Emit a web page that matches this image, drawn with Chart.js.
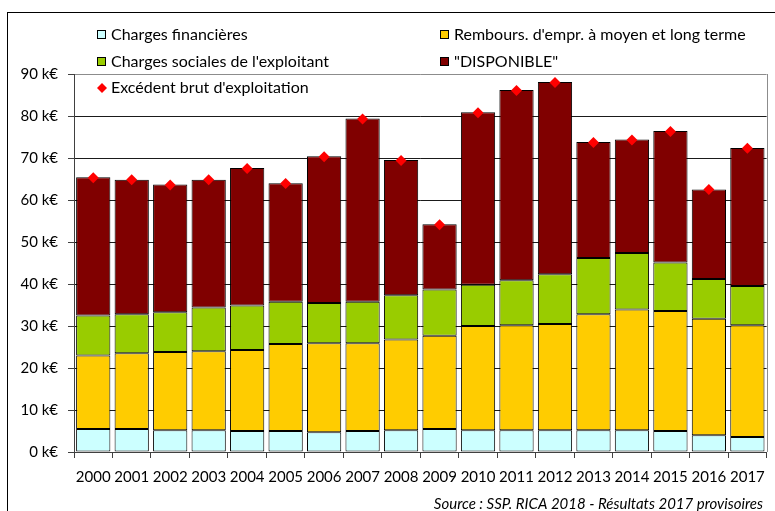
<!DOCTYPE html>
<html>
<head>
<meta charset="utf-8">
<script src="https://cdn.jsdelivr.net/npm/chart.js@4.4.1/dist/chart.umd.min.js"></script>
<style>
    html, body { margin: 0; padding: 0; background: #fff; overflow: hidden; }
    #wrap { position: relative; width: 775px; height: 511px; overflow: hidden; }
    #frame { position: absolute; left: 7px; top: 12px; width: 900px; height: 600px;
             border-left: 1px solid #000; border-top: 1px solid #000; }
    #chart { position: absolute; left: 0; top: 0; }
</style>
</head>
<body>
<div id="wrap">
    <div id="frame"></div>
    <canvas id="chart" width="775" height="511"></canvas>
</div>
<script>
// Values in k€ per exploitation
const years = ['2000', '2001', '2002', '2003', '2004', '2005', '2006', '2007', '2008',
               '2009', '2010', '2011', '2012', '2013', '2014', '2015', '2016', '2017'];
const chargesFinancieres = [5.5, 5.5, 5.2, 5.2, 5.0, 5.0, 4.7, 5.0, 5.2, 5.5, 5.2, 5.2, 5.2, 5.2, 5.2, 5.0, 4.0, 3.6];
const remboursements     = [17.5, 18.0, 18.6, 18.8, 19.3, 20.7, 21.2, 20.9, 21.6, 22.2, 24.8, 25.0, 25.3, 27.6, 28.7, 28.6, 27.7, 26.6];
const chargesSociales    = [9.5, 9.3, 9.5, 10.4, 10.6, 10.1, 9.6, 9.9, 10.5, 11.0, 9.8, 10.7, 11.8, 13.4, 13.5, 11.5, 9.5, 9.3];
const disponible         = [32.9, 32.0, 30.4, 30.4, 32.7, 28.2, 34.9, 43.6, 32.2, 15.5, 41.1, 45.3, 45.8, 27.6, 27.0, 31.3, 21.3, 32.9];
const ebe                = [65.3, 64.8, 63.6, 64.8, 67.5, 63.9, 70.3, 79.3, 69.4, 54.1, 80.8, 86.1, 88.0, 73.7, 74.3, 76.3, 62.5, 72.3];
const yTicks = [0, 10, 20, 30, 40, 50, 60, 70, 80, 90];
const sourceText = 'Source : SSP. RICA 2018 - Résultats 2017 provisoires';

const FONT = 'Lato, "Open Sans", sans-serif';

// legend drawn in two columns, like the original
const legendPlugin = {
    id: 'twoColLegend',
    afterDraw(chart) {
        const ctx = chart.ctx;
        const colX = [97, 440];
        const rowY = [35, 62, 88];
        ctx.save();
        ctx.font = '16px ' + FONT;
        ctx.textBaseline = 'middle';
        ctx.textAlign = 'left';
        chart.data.datasets.forEach((ds, i) => {
            const x = colX[i % 2];
            const y = rowY[Math.floor(i / 2)];
            if (ds.type === 'line') {
                ctx.fillStyle = ds.pointBackgroundColor;
                ctx.beginPath();
                ctx.moveTo(x + 5, y - 5);
                ctx.lineTo(x + 10, y);
                ctx.lineTo(x + 5, y + 5);
                ctx.lineTo(x, y);
                ctx.closePath();
                ctx.fill();
            } else {
                ctx.fillStyle = ds.backgroundColor;
                ctx.fillRect(x, y - 5, 9, 9);
                ctx.strokeStyle = '#000';
                ctx.lineWidth = 1;
                ctx.strokeRect(x + 0.5, y - 4.5, 8, 8);
            }
            ctx.fillStyle = '#000';
            ctx.fillText(ds.label, x + 14, y);
        });

        // source
        ctx.font = 'italic 15px ' + FONT;
        ctx.textAlign = 'right';
        ctx.textBaseline = 'alphabetic';
        ctx.fillText(sourceText, 763, 509);
        ctx.restore();
    },
    beforeDatasetsDraw(chart) {
        // gray right border of the plot area
        const a = chart.chartArea;
        const ctx = chart.ctx;
        ctx.save();
        ctx.strokeStyle = '#8c8c8c';
        ctx.lineWidth = 1;
        ctx.beginPath();
        ctx.moveTo(Math.round(a.right) + 0.5, a.top);
        ctx.lineTo(Math.round(a.right) + 0.5, a.bottom);
        ctx.stroke();
        ctx.restore();
    }
};

const barCommon = {
    type: 'bar',
    stack: 'postes',
    borderColor: '#000',
    borderWidth: 1,
    borderSkipped: false,
    barPercentage: 0.89,
    categoryPercentage: 1.0
};

new Chart(document.getElementById('chart'), {
    data: {
        labels: years,
        datasets: [
            Object.assign({}, barCommon, { label: 'Charges financières', data: chargesFinancieres, backgroundColor: '#CCFFFF', order: 2 }),
            Object.assign({}, barCommon, { label: "Rembours. d'empr. à moyen et long terme", data: remboursements, backgroundColor: '#FFCC00', order: 2 }),
            Object.assign({}, barCommon, { label: "Charges sociales de l'exploitant", data: chargesSociales, backgroundColor: '#99CC00', order: 2 }),
            Object.assign({}, barCommon, { label: '"DISPONIBLE"', data: disponible, backgroundColor: '#800000', order: 2 }),
            {
                type: 'line',
                label: "Excédent brut d'exploitation",
                data: ebe,
                stack: 'ebe',
                showLine: false,
                pointStyle: 'rectRot',
                pointRadius: 5.5,
                pointBackgroundColor: '#FF0000',
                pointBorderColor: '#FF0000',
                pointBorderWidth: 0,
                order: 1
            }
        ]
    },
    options: {
        responsive: false,
        animation: false,
        layout: { padding: { top: 74, right: 8, bottom: 0, left: 0 } },
        plugins: {
            legend: { display: false },
            title: { display: false },
            tooltip: { enabled: false }
        },
        scales: {
            x: {
                stacked: true,
                afterFit(scale) { scale.height = 59; },
                grid: {
                    offset: true,
                    drawOnChartArea: false,
                    drawTicks: true,
                    tickLength: 6,
                    color: '#404040'
                },
                border: { color: '#404040', width: 1 },
                ticks: {
                    color: '#000',
                    padding: 10,
                    maxRotation: 0,
                    autoSkip: false,
                    font: { family: FONT, size: 15 }
                }
            },
            y: {
                stacked: true,
                min: 0,
                max: 90,
                afterFit(scale) { scale.width = 74; },
                afterBuildTicks(scale) { scale.ticks = yTicks.map(v => ({ value: v })); },
                grid: {
                    tickLength: 6,
                    color: ctx => ctx.tick && ctx.tick.value === 90 ? '#8c8c8c' : '#1a1a1a',
                    tickColor: '#404040'
                },
                border: { color: '#404040', width: 1 },
                ticks: {
                    color: '#000',
                    padding: 10,
                    font: { family: FONT, size: 15 },
                    callback: v => v + ' k€'
                }
            }
        }
    },
    plugins: [legendPlugin]
});
</script>
</body>
</html>
